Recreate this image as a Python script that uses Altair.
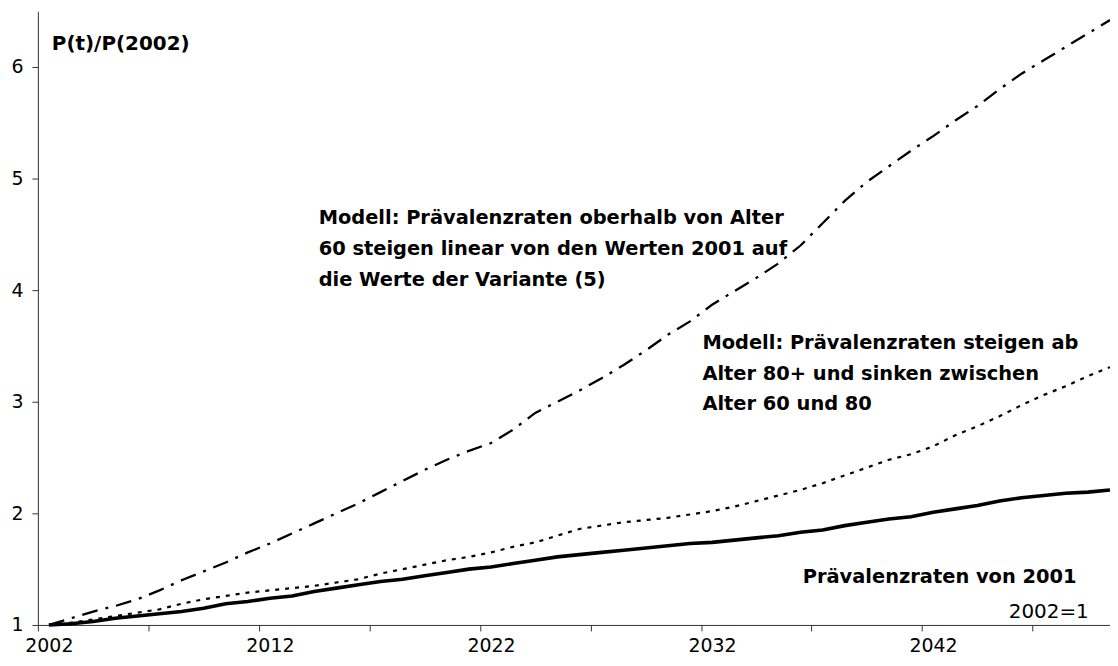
import altair as alt
import pandas as pd

# ---------------- data ----------------
years = list(range(2002, 2051))

# Prävalenzraten von 2001 (solid, thick)
rates_2001 = [1.00, 1.01, 1.03, 1.06, 1.08, 1.10, 1.12, 1.15, 1.19, 1.21,
              1.24, 1.26, 1.30, 1.33, 1.36, 1.39, 1.41, 1.44, 1.47, 1.50,
              1.52, 1.55, 1.58, 1.61, 1.63, 1.65, 1.67, 1.69, 1.71, 1.73,
              1.74, 1.76, 1.78, 1.80, 1.83, 1.85, 1.89, 1.92, 1.95, 1.97,
              2.01, 2.04, 2.07, 2.11, 2.14, 2.16, 2.18, 2.19, 2.21]

# Modell: steigen ab 80+, sinken zwischen 60 und 80 (dotted)
model_80 = [1.00, 1.02, 1.05, 1.08, 1.11, 1.14, 1.19, 1.23, 1.26, 1.29,
            1.31, 1.33, 1.35, 1.38, 1.41, 1.46, 1.50, 1.54, 1.58, 1.61,
            1.65, 1.70, 1.74, 1.80, 1.86, 1.89, 1.92, 1.94, 1.96, 1.99,
            2.02, 2.06, 2.11, 2.16, 2.21, 2.27, 2.34, 2.41, 2.48, 2.53,
            2.60, 2.70, 2.78, 2.87, 2.97, 3.06, 3.14, 3.23, 3.31]

# Modell: oberhalb Alter 60 linear steigend (dash-dot)
model_60 = [1.00, 1.06, 1.12, 1.17, 1.23, 1.31, 1.40, 1.48, 1.56, 1.65,
            1.73, 1.82, 1.91, 2.00, 2.09, 2.19, 2.29, 2.39, 2.48, 2.56,
            2.63, 2.75, 2.90, 3.00, 3.10, 3.21, 3.33, 3.46, 3.60, 3.72,
            3.87, 3.99, 4.11, 4.24, 4.40, 4.60, 4.80, 4.97, 5.11, 5.25,
            5.38, 5.52, 5.65, 5.80, 5.94, 6.06, 6.18, 6.30, 6.42]

x_tick_values = [2001.5 + 5 * k for k in range(10)]
y_tick_values = [1, 2, 3, 4, 5, 6]

title_text = "P(t)/P(2002)"
note_60 = ["Modell: Prävalenzraten oberhalb von Alter",
           "60 steigen linear von den Werten 2001 auf",
           "die Werte der Variante (5)"]
note_80 = ["Modell: Prävalenzraten steigen ab",
           "Alter 80+ und sinken zwischen",
           "Alter 60 und 80"]
note_2001 = "Prävalenzraten von 2001"
base_note = "2002=1"

# ---------------- tables ----------------
df = pd.DataFrame({"year": years, "r2001": rates_2001,
                   "m80": model_80, "m60": model_60})

bold_labels = pd.DataFrame({
    "x": [2002.13, 2014.2, 2014.2, 2014.2, 2031.56, 2031.56, 2031.56, 2036.1],
    "y": [6.156, 4.594, 4.317, 4.040, 3.469, 3.192, 2.924, 1.379],
    "text": [title_text] + note_60 + note_80 + [note_2001],
    "size": [20, 19.5, 19.5, 19.5, 19.5, 19.5, 19.5, 19.5],
})
plain_labels = pd.DataFrame({"x": [2049.04], "y": [1.058], "text": [base_note]})

FONT = "DejaVu Sans"
AX = "#333333"

x_scale = alt.Scale(domain=[2001.5, 2050], nice=False, zero=False)
y_scale = alt.Scale(domain=[1, 6.5], nice=False, zero=False)

x_axis = alt.Axis(
    values=x_tick_values,
    labelExpr="(datum.value - 2001.5) % 10 == 0 ? format(datum.value + 0.5, 'd') : ''",
    labelOffset=11, tickSize=6, labelPadding=21, labelBaseline="alphabetic",
    labelFont=FONT, labelFontSize=19, labelColor="#000000",
    labelOverlap=False, labelFlush=False,
    domainColor=AX, tickColor=AX, grid=False, title=None,
)
y_axis = alt.Axis(
    values=y_tick_values, format="d", tickSize=6, labelPadding=9,
    labelFont=FONT, labelFontSize=19, labelColor="#000000",
    domainColor=AX, tickColor=AX, grid=False, title=None,
)

base = alt.Chart(df)

line_2001 = base.mark_line(color="#000000", strokeWidth=3.6).encode(
    x=alt.X("year:Q", scale=x_scale, axis=x_axis),
    y=alt.Y("r2001:Q", scale=y_scale, axis=y_axis),
)
line_80 = base.mark_line(color="#000000", strokeWidth=2.2, strokeDash=[4, 6]).encode(
    x=alt.X("year:Q", scale=x_scale),
    y=alt.Y("m80:Q", scale=y_scale),
)
line_60 = base.mark_line(color="#000000", strokeWidth=2.3, strokeDash=[16, 8, 3, 8]).encode(
    x=alt.X("year:Q", scale=x_scale),
    y=alt.Y("m60:Q", scale=y_scale),
)

bold_text = alt.Chart(bold_labels).mark_text(
    align="left", baseline="alphabetic", font=FONT, fontWeight="bold", color="#000000"
).encode(
    x=alt.X("x:Q", scale=x_scale),
    y=alt.Y("y:Q", scale=y_scale),
    text="text:N",
    size=alt.Size("size:Q", scale=None, legend=None),
)
plain_text = alt.Chart(plain_labels).mark_text(
    align="right", baseline="alphabetic", font=FONT, fontSize=20, color="#000000"
).encode(
    x=alt.X("x:Q", scale=x_scale),
    y=alt.Y("y:Q", scale=y_scale),
    text="text:N",
)

chart = alt.layer(line_2001, line_80, line_60, bold_text, plain_text).properties(
    width=1076, height=616,
    autosize=alt.AutoSizeParams(type="none"),
    padding={"left": 30, "top": 2, "right": 0, "bottom": 32},
    background="#ffffff",
).configure_view(stroke=None)

chart.save("out.html", embed_options={"renderer": "svg", "actions": False})
